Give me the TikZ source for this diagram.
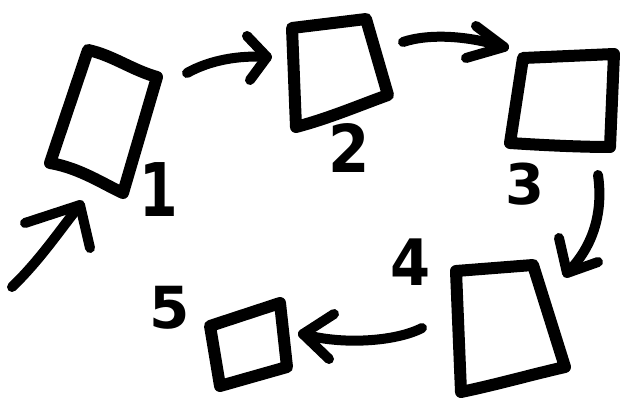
\documentclass[tikz,border=0pt]{standalone}
\usepackage{fontspec}
\newfontfamily\hand{DejaVu Sans}
\begin{document}
\begin{tikzpicture}[x=1pt,y=-1pt,
  box/.style={line width=12pt, line join=round, line cap=round},
  arr/.style={line width=10pt, line join=round, line cap=round},
  lbl/.style={inner sep=0pt, font=\hand\bfseries}]
\useasboundingbox[fill=white] (0,0) rectangle (622,401);

% shape 1
\draw[box] (88,50) .. controls (112,55) and (132,70) .. (157,77)
  -- (123,193) .. controls (105,185) and (80,168) .. (50,163) -- cycle;
% shape 2
\draw[box] (292,28) -- (366,19) -- (388,95) .. controls (360,105) and (330,118) .. (296,127) -- cycle;
% shape 3
\draw[box] (523,58) -- (614,54) -- (610,147) .. controls (580,147) and (540,145) .. (510,143) -- cycle;
% shape 4
\draw[box] (456,271) -- (533,265) -- (565,367) .. controls (530,375) and (495,385) .. (461,392) -- cycle;
% shape 5
\draw[box] (210,326) -- (280,303) -- (287,367) -- (220,386) -- cycle;

% labels
\node[lbl, xscale=0.75, font=\hand\bfseries\fontsize{74}{74}\selectfont] (l1) at (159,190) {1};
\node[lbl, xscale=0.9, font=\hand\bfseries\fontsize{66}{66}\selectfont] (l2) at (349,148) {2};
\node[lbl, font=\hand\bfseries\fontsize{56}{56}\selectfont] (l3) at (525,184) {3};
\node[lbl, xscale=0.9, font=\hand\bfseries\fontsize{64}{64}\selectfont] (l4) at (411,262) {4};
\node[lbl, font=\hand\bfseries\fontsize{58}{58}\selectfont] (l5) at (170,308) {5};

% connector end points
\coordinate (e0) at (12,287);  \coordinate (e1) at (80,205);
\coordinate (a1) at (187,73);  \coordinate (b1) at (267,57);
\coordinate (a2) at (403,42);  \coordinate (b2) at (504,47);
\coordinate (a3) at (598,175); \coordinate (b3) at (567,273);
\coordinate (a4) at (422,328); \coordinate (b4) at (303,334);

% entry arrow
\draw[arr] (e0) .. controls (40,260) and (60,230) .. (e1);
\draw[arr] (25,223) -- (e1) -- (90,248);
% 1 -> 2
\draw[arr] (a1) .. controls (210,60) and (240,55) .. (b1);
\draw[arr] (247,36) -- (b1) -- (250,80);
% 2 -> 3
\draw[arr] (a2) .. controls (430,33) and (470,36) .. (b2);
\draw[arr] (476,26) -- (b2) -- (466,58);
% 3 -> 4
\draw[arr] (a3) .. controls (603,210) and (595,245) .. (b3);
\draw[arr] (559,238) -- (b3) -- (598,262);
% 4 -> 5
\draw[arr] (a4) .. controls (395,342) and (340,345) .. (b4);
\draw[arr] (334,314) -- (b4) -- (329,359);
\end{tikzpicture}
\end{document}
